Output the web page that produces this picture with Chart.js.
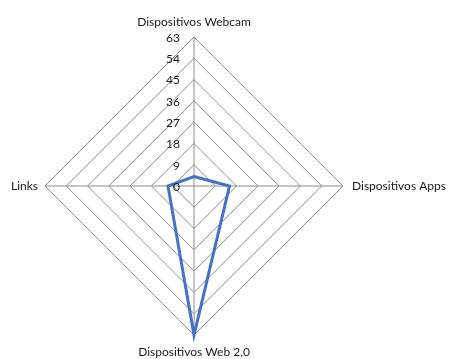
<!DOCTYPE html>
<html>
<head>
<meta charset="utf-8">
<script src="https://cdn.jsdelivr.net/npm/chart.js@4"></script>
<style>
  html,body{margin:0;padding:0;background:#fff;}
  #wrap{width:449px;height:359px;}
</style>
</head>
<body>
<div id="wrap"><canvas id="grafico" width="449" height="359"></canvas></div>
<script>
// Dados
const categorias = ["Dispositivos Webcam", "Dispositivos Apps", "Dispositivos Web 2,0", "Links"];
const valores = [4, 15, 63, 11];
const marcas = [0, 9, 18, 27, 36, 45, 54, 63];

const fonte = "Lato, 'Open Sans', sans-serif";
const corTexto = "#1a1a1a";

// rótulos desenhados à mão (ticks à esquerda do eixo, nomes das categorias)
const rotulos = {
  id: "rotulos",
  afterDraw(chart){
    const s = chart.scales.r;
    const ctx = chart.ctx;
    ctx.save();
    ctx.fillStyle = corTexto;
    ctx.font = "12px " + fonte;
    ctx.textBaseline = "middle";
    // ticks
    ctx.textAlign = "right";
    marcas.forEach(v=>{
      const d = s.getDistanceFromCenterForValue(v);
      ctx.fillText(String(v), s.xCenter - 14, s.yCenter - d + 1);
    });
    // categorias
    categorias.forEach((c,i)=>{
      const p = s.getPointPosition(i, s.drawingArea);
      const dx = p.x - s.xCenter, dy = p.y - s.yCenter;
      if(Math.abs(dx) < 1){
        ctx.textAlign = "center";
        ctx.fillText(c, p.x, p.y + (dy < 0 ? -15 : 17));
      } else if(dx > 0){
        ctx.textAlign = "left";
        ctx.fillText(c, p.x + 9, p.y);
      } else {
        ctx.textAlign = "right";
        ctx.fillText(c, p.x - 7, p.y);
      }
    });
    ctx.restore();
  }
};

new Chart(document.getElementById("grafico"), {
  type: "radar",
  data: {
    labels: categorias,
    datasets: [{
      label: "Série",
      data: valores,
      borderColor: "#4472c4",
      borderWidth: 3,
      backgroundColor: "rgba(0,0,0,0)",
      fill: false,
      pointRadius: 0,
      tension: 0
    }]
  },
  options: {
    responsive: false,
    animation: false,
    layout: { padding: { left: 20, right: 81, top: 37, bottom: 24 } },
    plugins: { legend: { display: false }, tooltip: { enabled: false } },
    scales: {
      r: {
        min: 0,
        max: 63,
        ticks: { display: false, stepSize: 9 },
        pointLabels: { display: false },
        grid: { color: "#8c8c8c", lineWidth: 1 },
        angleLines: { color: "#8c8c8c", lineWidth: 1 }
      }
    }
  },
  plugins: [rotulos]
});
</script>
</body>
</html>
